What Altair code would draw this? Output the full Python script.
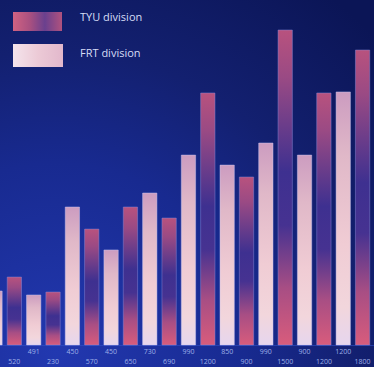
import altair as alt
import pandas as pd

# Data
frt_values = [313, 290, 800, 551, 881, 1101, 1043, 1171, 1101, 1467]
tyu_values = [394, 307, 672, 800, 736, 1461, 974, 1826, 1461, 1710]
frt_labels = ["", "491", "450", "450", "730", "990", "850", "990", "900", "1200"]
tyu_labels = ["520", "230", "570", "650", "690", "1200", "900", "1500", "1200", "1800"]
legend_names = ["TYU division", "FRT division"]

rows = []
for k in range(10):
    rows.append({"series": "FRT division", "pos": 2 * k, "value": frt_values[k], "label": frt_labels[k]})
    rows.append({"series": "TYU division", "pos": 2 * k + 1, "value": tyu_values[k], "label": tyu_labels[k]})
df = pd.DataFrame(rows)

W, H = 374, 367
xscale = alt.Scale(domain=[0.258, 19.59], range=[0, W], nice=False, zero=False)
yscale = alt.Scale(domain=[0, 2000], range=[345, 0], nice=False)

bg = alt.Chart(pd.DataFrame({"a": [0]})).mark_rect(
    fill=alt.Gradient(
        gradient="radial",
        x1=0.15, y1=0.95, r1=0, x2=0.15, y2=0.95, r2=1.2,
        stops=[
            alt.GradientStop(color="#2238b0", offset=0),
            alt.GradientStop(color="#182a90", offset=0.42),
            alt.GradientStop(color="#132070", offset=0.67),
            alt.GradientStop(color="#0b1556", offset=1),
        ],
    )
).encode(x=alt.value(0), x2=alt.value(W), y=alt.value(0), y2=alt.value(H))

tyu_grad = alt.Gradient(
    gradient="linear", x1=0, y1=0, x2=0, y2=1,
    stops=[
        alt.GradientStop(color="#b8527e", offset=0),
        alt.GradientStop(color="#9a4a84", offset=0.15),
        alt.GradientStop(color="#3e3090", offset=0.45),
        alt.GradientStop(color="#463291", offset=0.62),
        alt.GradientStop(color="#a84e84", offset=0.82),
        alt.GradientStop(color="#d85c7c", offset=1),
    ],
)
frt_grad = alt.Gradient(
    gradient="linear", x1=0, y1=0, x2=0, y2=1,
    stops=[
        alt.GradientStop(color="#cc9cc0", offset=0),
        alt.GradientStop(color="#e0b8c8", offset=0.25),
        alt.GradientStop(color="#f0ccd4", offset=0.6),
        alt.GradientStop(color="#f2d6dc", offset=0.85),
        alt.GradientStop(color="#e6d6ee", offset=1),
    ],
)

base = alt.Chart(df).transform_calculate(
    x0="datum.pos - 0.37", x1="datum.pos + 0.37"
)
x_enc = alt.X("x0:Q", scale=xscale, axis=None)
x2_enc = alt.X2("x1:Q")
y_enc = alt.Y("value:Q", scale=yscale, axis=None)

tyu_bars = base.transform_filter(alt.datum.series == "TYU division").mark_rect(
    fill=tyu_grad, stroke="#8a86d8", strokeWidth=0.8, strokeOpacity=0.6
).encode(x=x_enc, x2=x2_enc, y=y_enc, y2=alt.datum(0))

frt_bars = base.transform_filter(alt.datum.series == "FRT division").mark_rect(
    fill=frt_grad, stroke="#c8c4f0", strokeWidth=0.8, strokeOpacity=0.6
).encode(x=x_enc, x2=x2_enc, y=y_enc, y2=alt.datum(0))

lab_x = alt.X("pos:Q", scale=xscale, axis=None)
frt_text = alt.Chart(df).transform_filter(alt.datum.series == "FRT division").mark_text(
    fontSize=7, color="#9fb0e8", font="Open Sans"
).encode(x=lab_x, y=alt.value(352), text="label:N")
tyu_text = alt.Chart(df).transform_filter(alt.datum.series == "TYU division").mark_text(
    fontSize=7, color="#9fb0e8", font="Open Sans"
).encode(x=lab_x, y=alt.value(362), text="label:N")

baseline = alt.Chart(pd.DataFrame({"a": [0]})).mark_rule(
    color="#3050c8", strokeWidth=1, opacity=0.6
).encode(x=alt.value(0), x2=alt.value(W), y=alt.value(345.5))

# Legend
leg_tyu = alt.Chart(pd.DataFrame({"a": [0]})).mark_rect(
    fill=alt.Gradient(
        gradient="linear", x1=0, y1=0, x2=1, y2=0,
        stops=[
            alt.GradientStop(color="#d06282", offset=0),
            alt.GradientStop(color="#a85080", offset=0.35),
            alt.GradientStop(color="#6a408e", offset=0.65),
            alt.GradientStop(color="#b0527e", offset=1),
        ],
    )
).encode(x=alt.value(13), x2=alt.value(62), y=alt.value(12), y2=alt.value(31))
leg_frt = alt.Chart(pd.DataFrame({"a": [0]})).mark_rect(
    fill=alt.Gradient(
        gradient="linear", x1=0, y1=0, x2=1, y2=0,
        stops=[
            alt.GradientStop(color="#f4e4ec", offset=0),
            alt.GradientStop(color="#eccad6", offset=0.5),
            alt.GradientStop(color="#e2b8cc", offset=1),
        ],
    )
).encode(x=alt.value(13), x2=alt.value(63), y=alt.value(44), y2=alt.value(67))
leg_text = alt.Chart(pd.DataFrame({"name": legend_names, "row": [0, 1]})).mark_text(
    align="left", baseline="middle", fontSize=11, color="#d6ddf6", font="Open Sans"
).encode(
    x=alt.value(80),
    y=alt.Y("row:Q", scale=alt.Scale(domain=[0, 1], range=[18, 54]), axis=None),
    text="name:N",
)

chart = alt.layer(
    bg, baseline, frt_bars, tyu_bars, frt_text, tyu_text, leg_tyu, leg_frt, leg_text
).resolve_scale(y="independent").properties(
    width=W, height=H, padding=0, autosize=alt.AutoSizeParams(type="none")
).configure_view(stroke=None).configure(background="#0c1558")

chart.save("out.html", embed_options={"renderer": "svg", "actions": False})
